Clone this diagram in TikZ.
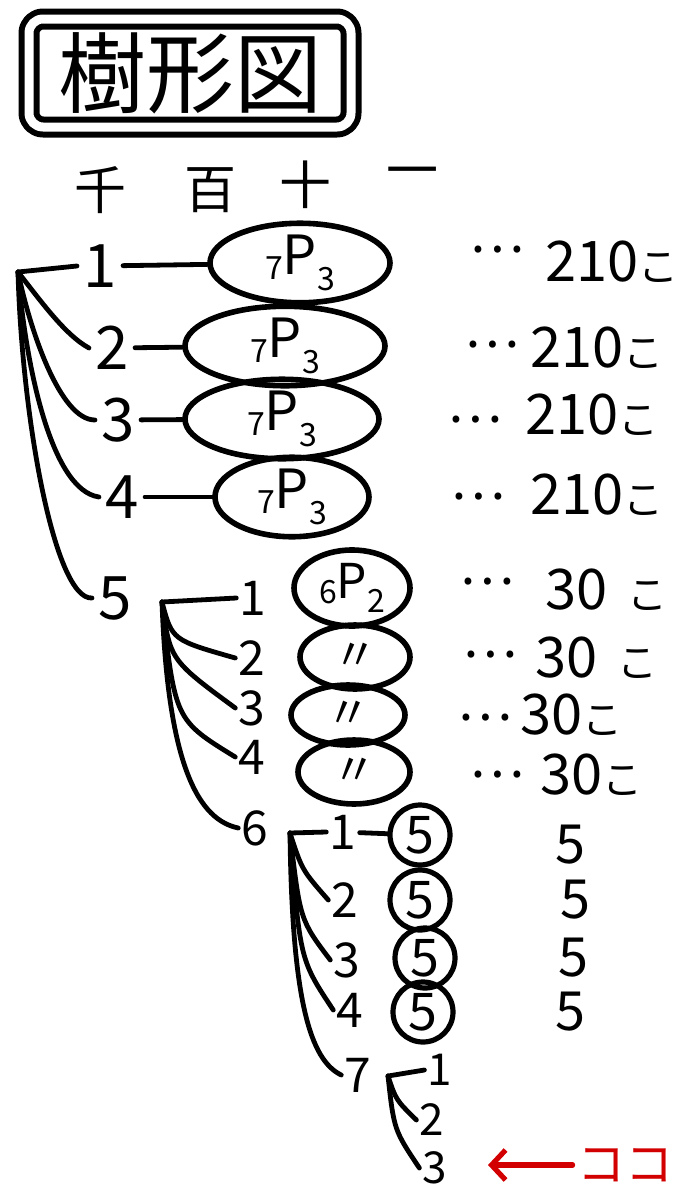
\documentclass[tikz,border=0pt]{standalone}
\usepackage{fontspec}
\setmainfont{Noto Sans CJK JP}
\usetikzlibrary{shapes.geometric,arrows.meta}
\definecolor{kokored}{RGB}{210,0,0}
\newcommand\fs[1]{\fontsize{#1}{#1}\selectfont}
\newcommand\permtext[2]{\raisebox{-0.1em}{\fs{16}#1}P\raisebox{-0.3em}{\fs{16}#2}}
\begin{document}
\begin{tikzpicture}[x=0.5pt,y=-0.5pt,line cap=round,line join=round,
  digA/.style={font=\fs{30},inner sep=3pt},
  digB/.style={font=\fs{24},inner sep=1.5pt},
  digC/.style={font=\fs{22},inner sep=1.5pt},
  ovalA/.style={draw,ellipse,inner sep=0pt,line width=2.8pt,font=\fs{27}},
  ringA/.style={draw,circle,inner sep=0pt,minimum size=30pt,line width=2.6pt,font=\fs{26}},
  dotsA/.style={font=\fs{26},inner sep=0pt},
  numA/.style={font=\fs{28},anchor=west,inner sep=0pt},
  fiveA/.style={font=\fs{27},inner sep=0pt},
  headA/.style={font=\fs{26}},
  branchA/.style={line width=2.4pt}]
\useasboundingbox (0,0) rectangle (682,1194);
% title
\node[draw,line width=3pt,double,double distance=4.5pt,rounded corners=7pt,
  minimum width=161pt,minimum height=54pt,font=\fs{44},inner sep=0pt] (title) at (190,73) {樹形図};
% header
\node[headA] (h1) at (100,190) {千};
\node[headA] (h2) at (210,190) {百};
\node[headA] (h3) at (305,185) {十};
\node[headA] (h4) at (412,178) {一};
% level 1
\coordinate (r1) at (18,272);
\node[digA] (d11) at (100,266) {1};
\node[digA] (d12) at (112,348) {2};
\node[digA] (d13) at (118,420) {3};
\node[digA] (d14) at (122,497) {4};
\node[digA] (d15) at (115,598) {5};
\node[ovalA,minimum width=90pt,minimum height=37pt] (e11) at (300,263) {\permtext{7}{3}};
\node[ovalA,minimum width=100pt,minimum height=36pt] (e12) at (285,346) {\permtext{7}{3}};
\node[ovalA,minimum width=97pt,minimum height=33pt] (e13) at (282,419) {\permtext{7}{3}};
\node[ovalA,minimum width=77pt,minimum height=38pt] (e14) at (292,497) {\permtext{7}{3}};
\draw[branchA] (d11) -- (e11);
\draw[branchA] (d12) -- (e12);
\draw[branchA] (d13) -- (e13);
\draw[branchA] (d14) -- (e14);
\draw[branchA] (r1) -- (d11.west);
\draw[branchA] (r1) .. controls (40,300) and (65,335) .. (d12.west);
\draw[branchA] (r1) .. controls (30,330) and (60,420) .. (d13.west);
\draw[branchA] (r1) .. controls (25,360) and (50,490) .. (d14.west);
\draw[branchA] (r1) .. controls (22,420) and (55,600) .. (d15.west);
\node[dotsA] (p11) at (497,250) {…};
\node[dotsA] (p12) at (492,345) {…};
\node[dotsA] (p13) at (475,420) {…};
\node[dotsA] (p14) at (478,497) {…};
\node[numA] (n11) at (545,262) {210{\fs{20}こ}};
\node[numA] (n12) at (530,348) {210{\fs{20}こ}};
\node[numA] (n13) at (525,415) {210{\fs{20}こ}};
\node[numA] (n14) at (530,495) {210{\fs{20}こ}};
% level 2
\coordinate (r2) at (162,602);
\node[digB] (d21) at (253,598) {1};
\node[digB] (d22) at (252,658) {2};
\node[digB] (d23) at (252,708) {3};
\node[digB] (d24) at (252,757) {4};
\node[digB] (d26) at (255,828) {6};
\node[ovalA,minimum width=58pt,minimum height=38pt,font=\fs{24}] (e21) at (352,588) {\permtext{6}{2}};
\node[ovalA,minimum width=55pt,minimum height=32pt,font=\fs{22}] (e22) at (355,657) {〃};
\node[ovalA,minimum width=57pt,minimum height=30pt,font=\fs{22}] (e23) at (348,715) {〃};
\node[ovalA,minimum width=56pt,minimum height=32pt,font=\fs{22}] (e24) at (354,772) {〃};
\draw[branchA] (r2) -- (d21.west);
\draw[branchA] (r2) .. controls (172,640) .. (d22.west);
\draw[branchA] (r2) .. controls (170,660) .. (d23.west);
\draw[branchA] (r2) .. controls (175,720) .. (d24.west);
\draw[branchA] (r2) .. controls (168,770) and (200,820) .. (d26.west);
\node[dotsA] (p21) at (487,582) {…};
\node[dotsA] (p22) at (490,655) {…};
\node[dotsA] (p23) at (485,718) {…};
\node[dotsA] (p24) at (497,775) {…};
\node[numA] (n21) at (545,590) {30\hspace{10pt}{\fs{20}こ}};
\node[numA] (n22) at (535,658) {30\hspace{10pt}{\fs{20}こ}};
\node[numA] (n23) at (520,715) {30{\fs{20}こ}};
\node[numA] (n24) at (540,775) {30{\fs{20}こ}};
% level 3
\coordinate (r3) at (290,833);
\node[digB] (d31) at (343,832) {1};
\node[digB] (d32) at (345,900) {2};
\node[digB] (d33) at (347,960) {3};
\node[digB] (d34) at (350,1010) {4};
\node[digB] (d37) at (358,1075) {7};
\node[ringA] (c31) at (420,835) {5};
\node[ringA] (c32) at (420,900) {5};
\node[ringA] (c33) at (425,958) {5};
\node[ringA] (c34) at (423,1012) {5};
\draw[branchA] (d31) -- (c31);
\draw[branchA] (r3) -- (d31.west);
\draw[branchA] (r3) .. controls (302,870) .. (d32.west);
\draw[branchA] (r3) .. controls (300,920) .. (d33.west);
\draw[branchA] (r3) .. controls (300,960) .. (d34.west);
\draw[branchA] (r3) .. controls (292,1000) and (310,1060) .. (d37.west);
\node[fiveA] (f31) at (570,845) {5};
\node[fiveA] (f32) at (575,900) {5};
\node[fiveA] (f33) at (573,958) {5};
\node[fiveA] (f34) at (570,1012) {5};
% level 4
\coordinate (r4) at (388,1076);
\node[digC] (d41) at (440,1070) {1};
\node[digC] (d42) at (432,1120) {2};
\node[digC] (d43) at (435,1168) {3};
\draw[branchA] (r4) -- (d41.west);
\draw[branchA] (r4) .. controls (396,1100) .. (d42.west);
\draw[branchA] (r4) .. controls (394,1130) .. (d43.west);
% marker
\node[font=\fs{24},text=kokored,inner sep=2pt] (koko) at (625,1165) {ココ};
\coordinate (tip) at (488,1165);
\draw[kokored,line width=2.6pt,-{Straight Barb[length=7pt,width=15pt]}] (koko.west) -- (tip);
\end{tikzpicture}
\end{document}
